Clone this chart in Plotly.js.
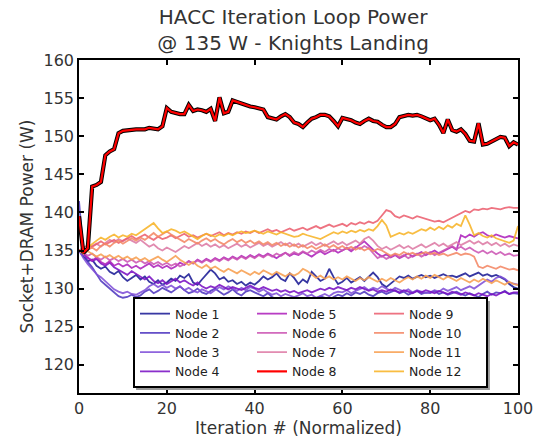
<!DOCTYPE html>
<html>
<head>
<meta charset="utf-8">
<script src="https://cdn.plot.ly/plotly-3.0.1.min.js"></script>
<style>html,body{margin:0;padding:0;background:#fff;}#chart{width:533px;height:438px;}</style>
</head>
<body>
<div id="chart"></div>
<script>
// Iteration index (normalized 0..100)
const iteration = Array.from({length: 101}, (_, i) => i);

const seriesNames = ["Node 1","Node 2","Node 3","Node 4","Node 5","Node 6","Node 7","Node 8","Node 9","Node 10","Node 11","Node 12"];

const node1 = [135.0,134.2,133.6,133.8,133.0,132.6,132.9,132.2,131.9,132.3,
131.5,131.0,131.4,131.8,131.2,131.6,130.9,130.6,131.1,130.5,
130.8,131.3,131.0,131.7,131.4,131.9,130.8,130.5,131.2,131.8,
132.5,132.0,131.2,131.5,130.9,131.1,130.6,130.9,130.4,130.8,
130.5,131.0,131.6,131.2,131.5,132.0,131.3,131.0,132.0,131.4,
130.6,131.2,130.8,132.2,131.6,131.0,131.3,132.6,131.5,130.6,
130.9,131.4,130.8,131.2,131.5,131.0,131.6,132.1,131.5,130.6,
130.2,130.7,131.2,131.6,131.4,131.7,131.3,131.5,131.8,131.5,
131.7,131.4,131.6,131.9,131.6,131.7,131.5,131.8,132.0,131.6,
131.8,132.1,131.7,131.9,131.6,131.8,131.5,131.2,130.6,130.2,
130.0];

const node2 = [141.5,134.8,133.5,132.8,131.9,131.0,130.5,130.0,129.4,129.0,
128.8,128.9,129.2,128.9,129.1,129.6,129.9,129.4,129.7,130.1,
129.8,129.5,129.9,130.3,129.8,129.4,129.6,130.0,129.5,129.3,
129.7,130.0,129.6,129.2,129.5,129.9,129.4,129.1,129.6,129.8,
129.5,129.2,129.0,129.4,128.9,128.6,128.8,128.5,128.4,128.7,
128.5,128.3,128.6,128.4,128.7,129.0,128.8,128.5,128.9,129.2,
129.0,129.4,129.1,129.5,129.3,129.6,129.2,129.0,129.4,129.6,
129.3,129.5,129.8,129.4,129.6,129.2,129.5,129.7,129.3,129.5,
129.4,129.7,129.3,129.5,129.2,129.4,129.6,129.3,129.1,129.4,
129.2,128.9,129.3,129.6,129.2,129.5,129.4,129.7,129.3,129.4,
129.3];

const node3 = [135.0,134.0,133.2,132.5,131.9,131.5,131.0,130.4,129.9,129.6,
129.4,129.6,129.3,129.2,129.5,129.8,130.3,130.6,130.2,130.5,
130.1,130.4,130.0,130.3,129.8,130.1,129.7,129.5,129.9,129.6,
129.4,129.8,130.2,129.9,130.3,130.0,129.7,130.1,129.8,130.2,
130.0,129.6,129.9,129.5,129.2,129.4,129.0,129.3,129.1,128.9,
129.1,129.4,129.0,129.2,128.8,129.1,129.3,129.0,129.4,129.6,
129.5,129.8,129.4,129.7,129.9,130.2,129.8,130.1,129.9,130.3,
130.0,129.7,130.1,129.8,129.6,129.9,129.5,129.8,129.6,129.4,
129.5,129.8,129.6,130.0,129.7,129.9,130.2,129.8,130.0,130.3,
130.0,130.4,130.8,131.2,130.9,131.4,131.6,131.3,130.8,130.6,
130.5];

const node4 = [135.0,134.5,134.0,133.6,133.9,133.3,133.0,133.4,132.8,132.5,
132.2,131.8,132.3,131.9,131.5,131.2,131.6,131.0,130.7,131.1,
130.6,130.9,131.3,130.8,131.1,130.7,130.4,130.8,130.3,130.0,
130.3,130.1,130.5,130.2,129.9,130.2,130.0,129.8,130.1,130.4,
130.1,129.9,130.2,130.0,129.7,129.9,129.6,129.8,129.5,129.7,
129.4,129.6,129.8,129.5,129.7,130.0,129.8,130.1,129.9,130.2,
130.0,129.8,130.1,129.9,130.2,130.0,129.7,129.9,129.6,129.8,
129.6,129.9,129.7,129.5,129.8,129.6,129.4,129.7,129.5,129.8,
129.6,129.4,129.7,129.5,129.3,129.6,129.4,129.2,129.5,129.3,
129.1,129.4,129.2,129.0,129.3,129.1,129.4,129.6,129.3,129.5,
129.5];

const node5 = [135.0,134.6,134.0,133.7,134.1,133.5,133.2,133.6,133.0,133.3,
132.9,133.2,132.7,133.0,132.6,132.9,133.3,132.8,133.1,132.7,
133.0,132.6,132.9,133.4,133.1,133.6,133.3,133.8,133.5,133.9,
133.6,134.0,133.7,134.1,133.8,134.2,133.9,134.3,134.0,134.4,
134.1,134.5,134.2,134.6,134.3,134.0,134.4,134.7,134.3,134.6,
134.4,134.8,134.5,134.2,134.6,134.9,134.5,134.8,135.1,134.7,
135.0,135.3,134.9,135.4,135.8,136.2,135.6,135.1,134.6,134.2,
134.5,134.1,134.4,134.0,134.3,134.6,134.2,134.5,134.8,134.4,
134.7,135.0,134.6,134.9,135.2,135.5,135.1,137.0,136.7,137.1,
136.8,137.2,137.4,137.0,136.8,137.1,136.9,136.7,136.9,136.8,
136.6];

const node6 = [135.0,134.8,134.3,134.6,134.1,133.8,134.2,133.7,134.0,133.6,
133.9,133.5,133.8,133.4,133.7,133.3,133.6,133.2,133.5,133.1,
133.4,133.0,133.3,132.9,133.2,133.6,133.3,133.7,133.4,133.8,
133.5,133.9,133.6,134.0,133.7,134.1,133.8,134.2,133.9,134.3,
134.0,134.4,134.1,134.5,134.2,134.6,134.3,134.7,134.4,134.8,
134.5,134.9,134.6,135.0,134.7,135.1,134.8,135.2,134.9,135.3,
135.0,135.4,135.1,135.5,135.2,135.6,135.3,134.6,134.0,134.3,
133.9,134.2,134.5,134.1,134.4,134.0,134.3,134.6,134.2,134.5,
134.8,134.4,134.7,135.0,135.3,135.6,135.2,135.5,135.1,135.4,
135.0,134.7,135.0,134.6,134.9,134.5,134.8,134.4,134.6,134.3,
134.4];

const node7 = [135.0,135.3,135.0,135.6,135.9,135.5,136.0,136.4,136.1,136.5,
136.2,136.6,136.3,136.0,136.4,135.9,135.5,135.8,135.3,135.0,
135.4,135.1,134.8,135.2,135.6,135.3,135.7,136.0,135.6,135.9,
135.5,135.8,135.4,135.7,135.3,135.6,135.9,135.5,135.8,135.4,
135.7,136.0,135.6,135.9,135.5,135.8,136.1,135.7,136.0,135.6,
135.9,135.5,135.8,136.1,135.7,136.0,135.6,135.9,136.2,135.8,
136.1,135.7,136.0,136.3,135.9,136.5,136.8,136.3,135.6,135.2,
135.5,135.1,135.4,135.7,135.3,135.6,135.2,135.5,135.8,135.4,
135.7,136.0,135.6,135.9,135.5,135.8,136.1,135.7,136.0,136.3,
135.9,136.2,135.8,136.1,135.7,136.0,135.6,135.9,135.5,135.8,
135.6];

const node8 = [139.5,134.7,135.3,143.4,143.6,144.0,147.5,148.0,148.3,150.4,
150.7,150.8,150.8,150.9,150.9,150.9,151.1,151.0,150.9,151.3,
153.7,153.2,153.0,152.9,152.9,154.1,153.3,153.5,153.4,153.2,
153.6,152.0,155.1,153.0,153.2,154.7,154.5,154.3,154.0,153.9,
153.8,153.6,153.5,152.5,152.3,152.2,152.6,152.9,152.5,151.8,
151.6,151.2,151.8,152.3,152.5,152.8,152.8,152.6,152.0,151.3,
152.4,152.3,152.1,151.8,151.6,152.0,152.3,152.0,151.9,151.5,
151.2,151.2,151.6,152.5,152.7,152.8,152.7,152.8,152.6,152.3,
152.1,152.3,151.5,150.4,152.2,150.8,150.6,150.9,150.3,149.4,
149.3,151.7,148.9,149.0,149.3,149.6,149.9,149.8,148.7,149.2,
148.9];

const node9 = [135.0,135.3,135.7,135.5,135.9,136.2,135.8,136.1,136.4,136.0,
136.3,136.6,136.9,136.5,136.8,137.1,136.7,136.4,136.8,136.5,
136.7,137.0,136.6,136.9,137.2,136.8,137.0,136.7,136.9,137.2,
136.9,137.1,137.4,137.0,137.3,137.1,137.4,137.2,137.5,137.3,
137.6,137.3,137.5,137.8,137.5,137.7,137.4,137.7,137.9,137.6,
137.8,138.0,137.7,137.9,138.2,137.9,138.1,138.4,138.1,138.3,
138.5,138.2,138.6,138.4,138.7,138.5,138.8,138.6,138.9,139.6,
140.3,140.1,139.5,139.3,139.6,139.4,139.2,139.5,139.3,139.1,
139.0,138.8,138.9,138.7,139.0,139.3,139.6,139.9,140.2,140.0,
140.4,140.3,140.5,140.4,140.6,140.5,140.4,140.6,140.7,140.6,
140.6];

const node10 = [135.0,134.7,135.1,135.4,135.0,135.6,135.9,135.5,136.0,136.3,
135.9,136.2,136.6,136.3,136.7,136.4,136.9,137.3,136.8,137.2,
137.5,137.1,136.8,136.4,136.1,136.5,136.2,135.9,136.3,136.6,
136.2,136.5,136.1,135.8,136.2,136.5,136.1,136.4,136.0,136.3,
135.9,136.2,135.8,136.1,135.7,136.0,135.6,135.9,135.5,135.8,
135.4,135.7,135.3,135.6,135.2,135.5,135.8,135.4,135.7,135.3,
135.6,135.2,135.5,135.1,135.4,135.0,135.3,134.9,135.2,135.0,
134.7,134.3,134.6,134.4,134.8,134.5,134.7,134.4,134.6,134.8,
134.5,134.7,134.4,134.6,134.3,134.5,134.7,134.4,134.6,134.5,
134.2,132.9,132.7,133.0,132.8,132.6,132.9,132.7,132.5,132.6,
132.4];

const node11 = [135.0,134.6,134.9,134.5,134.2,134.5,134.1,134.4,134.0,134.3,
133.9,134.2,133.8,134.1,133.7,134.0,133.6,133.9,134.2,133.8,
133.5,133.9,134.3,133.8,133.4,133.1,133.5,133.0,132.7,133.1,
132.6,132.9,132.5,132.2,132.6,132.3,132.0,132.4,132.1,131.8,
132.2,131.9,132.4,132.1,131.8,132.2,131.9,131.6,132.0,131.7,
132.0,132.6,132.3,131.9,131.4,131.7,131.3,131.6,131.2,131.5,
131.2,131.6,131.3,131.0,131.4,131.1,131.5,131.2,130.9,131.3,
131.0,131.4,131.1,130.8,131.2,131.5,131.2,131.6,131.3,131.7,
131.4,131.8,131.5,131.2,131.6,131.3,131.0,131.4,131.1,130.8,
131.2,130.9,131.3,131.0,130.7,131.1,130.8,130.5,130.9,130.6,
130.5];

const node12 = [135.0,134.6,135.4,135.9,136.3,136.7,136.4,136.8,137.1,136.7,
137.0,136.8,137.2,137.0,137.4,137.8,138.3,138.6,137.9,137.3,
137.5,137.8,137.6,137.3,137.5,137.2,136.9,136.5,136.9,137.2,
137.0,136.8,137.1,136.9,137.2,137.0,137.3,137.5,137.3,137.4,
137.6,137.4,137.2,137.5,137.3,137.1,137.4,137.2,137.0,136.8,
136.9,137.2,137.0,136.8,136.6,136.5,136.8,137.1,137.4,137.2,
137.5,137.3,137.6,137.4,137.7,137.5,137.8,137.6,138.2,139.0,
138.3,136.8,137.0,137.3,137.1,137.4,137.2,137.5,137.8,137.6,
138.0,137.7,138.1,137.8,138.3,138.0,138.5,138.2,139.6,138.4,
137.0,137.3,136.9,136.7,137.0,136.6,136.4,136.2,136.0,136.3,
138.2];

const seriesValues = [node1,node2,node3,node4,node5,node6,node7,node8,node9,node10,node11,node12];
const seriesColors = ["#1c1c96","#5038c0","#8050d8","#7a12c4","#ae22bc","#cc56b4","#de7ca6","#ff0000","#ec6070","#f48866","#f8a052","#f8b428"];

const xTicks = [0,20,40,60,80,100];
const yTicks = [120,125,130,135,140,145,150,155,160];

// legend order is column-major: 3 columns x 4 rows
function legendRank(i) { return (i % 4) * 3 + Math.floor(i / 4) + 1; }

const traces = [];
for (let i = 0; i < 12; i++) {
  if (i === 7) continue;
  traces.push({
    x: iteration, y: seriesValues[i], type: 'scatter', mode: 'lines',
    name: seriesNames[i], legendrank: legendRank(i),
    line: {color: seriesColors[i], width: 1.8}, opacity: 0.88
  });
}
traces.push({
  x: iteration, y: node8, type: 'scatter', mode: 'lines', showlegend: false,
  hoverinfo: 'skip', line: {color: '#000000', width: 4.2}
});
traces.push({
  x: iteration, y: node8, type: 'scatter', mode: 'lines',
  name: seriesNames[7], legendrank: legendRank(7),
  line: {color: seriesColors[7], width: 2.2}
});

const font = "DejaVu Sans, Arial, sans-serif";
const layout = {
  width: 533, height: 438,
  margin: {l: 79, r: 15, t: 60, b: 45},
  paper_bgcolor: '#ffffff', plot_bgcolor: '#ffffff',
  font: {family: font, color: '#333333'},
  title: {
    text: 'HACC Iteration Loop Power<br>@ 135 W - Knights Landing',
    font: {family: font, size: 20, color: '#333333'},
    xref: 'container', x: 0.55, xanchor: 'center',
    yref: 'container', y: 0.946, yanchor: 'middle'
  },
  xaxis: {
    range: [0, 100], tickvals: xTicks, ticktext: xTicks.map(String),
    ticklabeloverflow: 'allow',
    showline: true, linecolor: '#000', linewidth: 1.5, mirror: 'ticks',
    ticks: 'inside', ticklen: 5, tickwidth: 1.5, tickcolor: '#000',
    showgrid: false, zeroline: false,
    tickfont: {family: font, size: 16, color: '#333333'},
    title: {text: 'Iteration # (Normalized)', font: {family: font, size: 17, color: '#333333'}, standoff: 4}
  },
  yaxis: {
    range: [116.3, 160], tickvals: yTicks, ticktext: yTicks.map(String),
    showline: true, linecolor: '#000', linewidth: 1.5, mirror: 'ticks',
    ticks: 'inside', ticklen: 5, tickwidth: 1.5, tickcolor: '#000',
    showgrid: false, zeroline: false,
    tickfont: {family: font, size: 16, color: '#333333'},
    title: {text: 'Socket+DRAM Power (W)', font: {family: font, size: 17, color: '#333333'}, standoff: 6}
  },
  shapes: [{
    type: 'rect', xref: 'paper', yref: 'paper',
    x0: 0.130, x1: 0.936, y0: 0.009, y1: 0.276,
    fillcolor: '#9a9a9a', line: {width: 0}, layer: 'above'
  }],
  showlegend: true,
  legend: {
    orientation: 'h', traceorder: 'normal',
    x: 0.123, xanchor: 'left', y: 0.015, yanchor: 'bottom',
    bgcolor: '#ffffff', bordercolor: '#000000', borderwidth: 2,
    font: {family: font, size: 12.5, color: '#222222'},
    entrywidth: 72, entrywidthmode: 'pixels', itemwidth: 30, tracegroupgap: 0
  }
};

Plotly.newPlot('chart', traces, layout, {displayModeBar: false, responsive: false});
</script>
</body>
</html>
